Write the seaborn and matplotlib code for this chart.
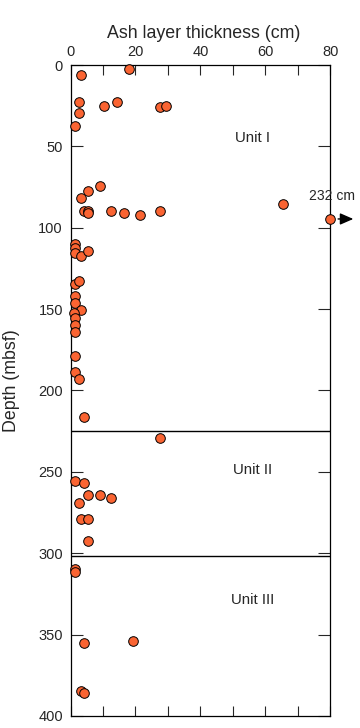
import numpy as np
import pandas as pd
import matplotlib
matplotlib.use("Agg")
import matplotlib.pyplot as plt
from matplotlib.ticker import MultipleLocator
import seaborn as sns

# ash layer thickness (cm) vs depth (mbsf)
thickness = [18.1, 3.1, 2.5, 2.6, 1.4, 10.4, 14.3, 27.6, 29.3,
             9.1, 5.3, 3.1, 4.1, 5.3, 5.4, 12.4, 16.5, 21.4, 27.6, 65.6, 232.0,
             1.3, 1.5, 1.5, 3.1, 5.3, 1.4, 2.6, 1.4, 1.4, 3.1, 1.2, 1.4, 1.4, 1.4,
             1.4, 1.4, 2.6, 4.1,
             27.6, 1.3, 4.1, 5.3, 9.1, 12.4, 2.5, 3.1, 5.3, 5.3,
             1.3, 1.4, 4.1, 19.2, 3.1, 4.1]
depth = [2.7, 6.2, 22.8, 29.4, 37.2, 24.9, 22.6, 26.1, 24.9,
         74.1, 77.2, 81.7, 89.5, 89.9, 91.0, 89.5, 91.0, 92.0, 89.5, 85.4, 94.6,
         109.7, 112.6, 115.4, 117.5, 114.2, 134.4, 132.9, 142.0, 146.5, 150.8, 152.3, 155.3, 159.7, 164.2,
         178.8, 188.9, 193.2, 216.5,
         229.4, 255.6, 256.8, 264.4, 264.4, 265.9, 269.0, 279.0, 279.0, 292.4,
         309.9, 311.7, 355.0, 353.8, 384.8, 385.8]

unit_names = ["Unit I", "Unit II", "Unit III"]
unit_bounds = [225, 302]          # unit boundaries (mbsf)
unit_label_depth = [45, 249, 329]

x_max = 80
df = pd.DataFrame({"thickness": thickness, "depth": depth})
df["shown"] = df["thickness"].clip(upper=x_max)   # 232 cm layer drawn at the edge

sns.set_style("ticks")
plt.rcParams["font.family"] = ["Liberation Sans", "DejaVu Sans"]

fig = plt.figure(figsize=(3.6, 7.28), dpi=100)
ax = fig.add_axes([0.196, 0.0165, 0.721, 0.8942])

sns.scatterplot(data=df, x="shown", y="depth", ax=ax, color="#FA6432",
                edgecolor="black", linewidth=0.7, s=48, zorder=3, clip_on=False)

for b in unit_bounds:
    ax.axhline(b, color="black", lw=1.0)

for name, d in zip(unit_names, unit_label_depth):
    ax.text(56, d, name, ha="center", va="center", fontsize=10.8)

# off-scale layer
big = df.loc[df["thickness"] > x_max].iloc[0]
ax.annotate("", xy=(88, big["depth"]), xytext=(81.6, big["depth"]),
            arrowprops=dict(arrowstyle="-|>,head_length=0.8,head_width=0.35",
                            color="black", lw=1.0),
            annotation_clip=False)
ax.text(80.6, big["depth"] - 14, "%d cm" % big["thickness"],
        ha="center", va="center", fontsize=10)

ax.set_xlim(0, x_max)
ax.set_ylim(400, 0)
ax.xaxis.set_major_locator(MultipleLocator(20))
ax.xaxis.set_minor_locator(MultipleLocator(10))
ax.yaxis.set_major_locator(MultipleLocator(50))
ax.xaxis.tick_top()
ax.tick_params(axis="x", which="both", direction="in", top=True, bottom=True,
               length=7.2, width=0.8, labelsize=10.5, pad=4)
ax.tick_params(axis="y", direction="in", left=True, right=True,
               length=8.4, width=0.8, labelsize=10.5, pad=5.5)
for sp in ax.spines.values():
    sp.set_linewidth(0.9)
    sp.set_color("black")

ax.set_xlabel("Ash layer thickness (cm)", fontsize=12.8)
ax.xaxis.set_label_position("top")
ax.xaxis.set_label_coords(0.514, 1.041)
ax.set_ylabel("Depth (mbsf)", fontsize=12.8)
ax.yaxis.set_label_coords(-0.195, 0.515)

fig.savefig("out.png", dpi=100)
